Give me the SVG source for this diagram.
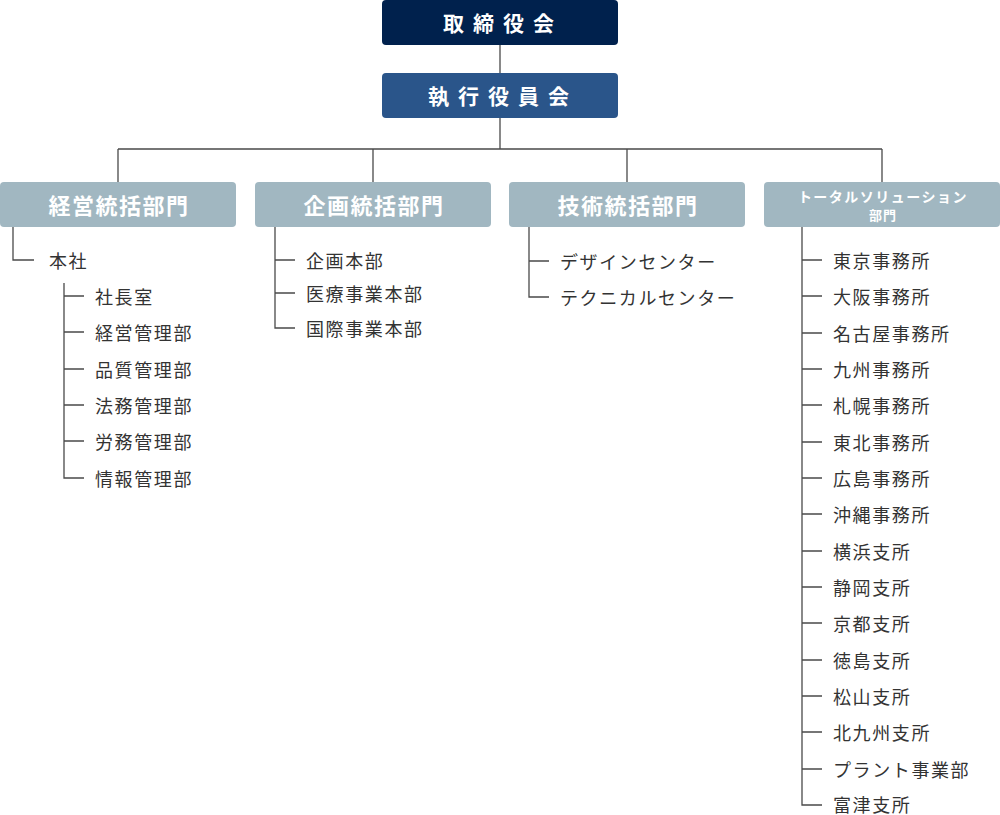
<svg xmlns="http://www.w3.org/2000/svg" width="1000" height="815" viewBox="0 0 1000 815">
<style>
.t{font-family:"Noto Sans CJK JP","Noto Sans",sans-serif;font-size:18px;letter-spacing:1.6px;fill:#333;dominant-baseline:central}
.h{font-family:"Noto Sans CJK JP",sans-serif;font-weight:bold;fill:#fff;text-anchor:middle;dominant-baseline:central}
.l{stroke:#4a4a4a;stroke-width:1.3;fill:none}
.d{fill:#a1b7c1}
</style>
<rect width="1000" height="815" fill="#fff"/>
<g id="connectors" class="l">
<path d="M500 45V73M500 118V149M118 149H882M118 149V182M373 149V182M627 149V182M882 149V182"/>
<path d="M13 227V260H34M64 283V478H84M64 296H84M64 332H84M64 369H84M64 405H84M64 441H84"/>
<path d="M275 227V328H295M275 260H295M275 293H295"/>
<path d="M529 227V297H549M529 261H549"/>
<path d="M802 227V805H822M802 260H822M802 296H822M802 333H822M802 369H822M802 405H822M802 442H822M802 478H822M802 514H822M802 551H822M802 587H822M802 623H822M802 660H822M802 696H822M802 732H822M802 769H822"/>
</g>
<g id="board"><rect x="382" y="0" width="236" height="45" rx="4" fill="#00214d"/><text class="h" x="503" y="22" font-size="21" letter-spacing="9">取締役会</text></g>
<g id="exec"><rect x="382" y="73" width="236" height="45" rx="4" fill="#2a558a"/><text class="h" x="503" y="95" font-size="21" letter-spacing="9">執行役員会</text></g>
<g id="d1"><rect class="d" x="0" y="182" width="236" height="45" rx="4"/><text class="h" x="119" y="204" font-size="22" letter-spacing="1.5">経営統括部門</text></g>
<g id="d2"><rect class="d" x="255" y="182" width="236" height="45" rx="4"/><text class="h" x="374" y="204" font-size="22" letter-spacing="1.5">企画統括部門</text></g>
<g id="d3"><rect class="d" x="509" y="182" width="236" height="45" rx="4"/><text class="h" x="628" y="204" font-size="22" letter-spacing="1.5">技術統括部門</text></g>
<g id="d4"><rect class="d" x="764" y="182" width="236" height="45" rx="4"/><text class="h" x="883" y="196" font-size="14" letter-spacing="1.5">トータルソリューション</text><text class="h" x="883" y="214" font-size="13" letter-spacing="1">部門</text></g>
<g id="d1items">
<text class="t" x="49" y="260">本社</text>
<text class="t" x="95" y="296">社長室</text>
<text class="t" x="95" y="332">経営管理部</text>
<text class="t" x="95" y="369">品質管理部</text>
<text class="t" x="95" y="405">法務管理部</text>
<text class="t" x="95" y="441">労務管理部</text>
<text class="t" x="95" y="478">情報管理部</text>
</g>
<g id="d2items">
<text class="t" x="306" y="260">企画本部</text>
<text class="t" x="306" y="293">医療事業本部</text>
<text class="t" x="306" y="328">国際事業本部</text>
</g>
<g id="d3items">
<text class="t" x="560" y="261">デザインセンター</text>
<text class="t" x="560" y="297">テクニカルセンター</text>
</g>
<g id="d4items">
<text class="t" x="833" y="260">東京事務所</text>
<text class="t" x="833" y="296">大阪事務所</text>
<text class="t" x="833" y="333">名古屋事務所</text>
<text class="t" x="833" y="369">九州事務所</text>
<text class="t" x="833" y="405">札幌事務所</text>
<text class="t" x="833" y="442">東北事務所</text>
<text class="t" x="833" y="478">広島事務所</text>
<text class="t" x="833" y="514">沖縄事務所</text>
<text class="t" x="833" y="551">横浜支所</text>
<text class="t" x="833" y="587">静岡支所</text>
<text class="t" x="833" y="623">京都支所</text>
<text class="t" x="833" y="660">徳島支所</text>
<text class="t" x="833" y="696">松山支所</text>
<text class="t" x="833" y="732">北九州支所</text>
<text class="t" x="833" y="769">プラント事業部</text>
<text class="t" x="833" y="804">富津支所</text>
</g>
</svg>
